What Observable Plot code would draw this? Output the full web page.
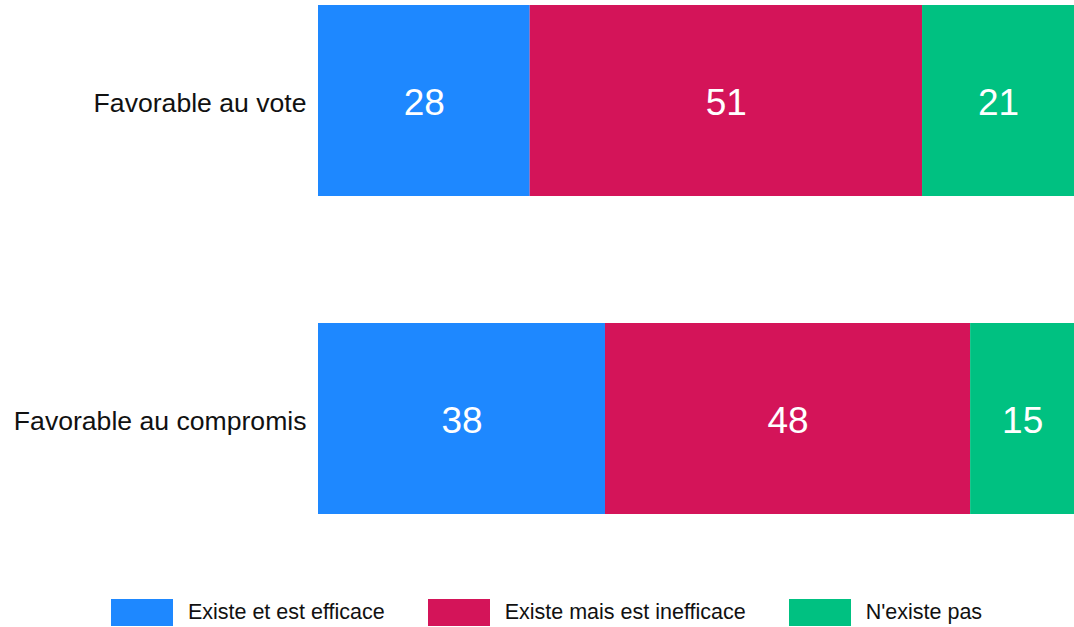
<!DOCTYPE html>
<html>
<head>
<meta charset="utf-8">
<script src="https://cdn.jsdelivr.net/npm/d3@7"></script>
<script src="https://cdn.jsdelivr.net/npm/@observablehq/plot@0.6"></script>
<style>
  body { margin: 0; background: #fff; font-family: "Liberation Sans", Arial, sans-serif; }
  #legend { display: flex; justify-content: center; align-items: center; padding-left: 19px; margin-top: 14px; gap: 43px; font-size: 21.5px; color: #111; }
  .item { display: flex; align-items: center; gap: 15px; }
  .sw { width: 62px; height: 27px; display: inline-block; }
</style>
</head>
<body>
<div id="chart"></div>
<div id="legend"></div>
<script>
const categories = ["Favorable au vote", "Favorable au compromis"];
const series = ["Existe et est efficace", "Existe mais est inefficace", "N'existe pas"];
const colors = ["#1E88FF", "#D41459", "#00C181"];
// bar shares
const efficace = [28.0, 37.96];
const inefficace = [51.9, 48.3];
const nexiste = [20.1, 13.76];
// displayed labels
const labelsEfficace = [28, 38];
const labelsInefficace = [51, 48];
const labelsNexiste = [21, 15];

const valueSets = [efficace, inefficace, nexiste];
const labelSets = [labelsEfficace, labelsInefficace, labelsNexiste];
const data = [];
categories.forEach((c, i) => {
  series.forEach((s, j) => {
    data.push({cat: c, series: s, value: valueSets[j][i], label: labelSets[j][i]});
  });
});

const chart = Plot.plot({
  width: 1074,
  height: 585,
  marginLeft: 318,
  marginRight: 0,
  marginTop: 5,
  marginBottom: 71,
  style: {fontFamily: "'Liberation Sans', Arial, sans-serif", background: "#fff"},
  x: {domain: [0, 100], axis: null},
  y: {domain: categories, paddingInner: 0.4, paddingOuter: 0, axis: null},
  color: {domain: series, range: colors},
  marks: [
    Plot.barX(data, Plot.stackX({x: "value", y: "cat", fill: "series", order: null})),
    Plot.text(data, Plot.stackX({x: "value", y: "cat", text: "label", order: null, fill: "white", fontSize: 37, dy: 2})),
    Plot.axisY({tickSize: 0, tickPadding: 12, fontSize: 26.6, label: null, fill: "#111", dy: 2})
  ]
});
document.getElementById("chart").appendChild(chart);

const legend = document.getElementById("legend");
series.forEach((s, j) => {
  const item = document.createElement("div");
  item.className = "item";
  const sw = document.createElement("span");
  sw.className = "sw";
  sw.style.background = colors[j];
  const t = document.createElement("span");
  t.textContent = s;
  item.appendChild(sw);
  item.appendChild(t);
  legend.appendChild(item);
});
</script>
</body>
</html>
